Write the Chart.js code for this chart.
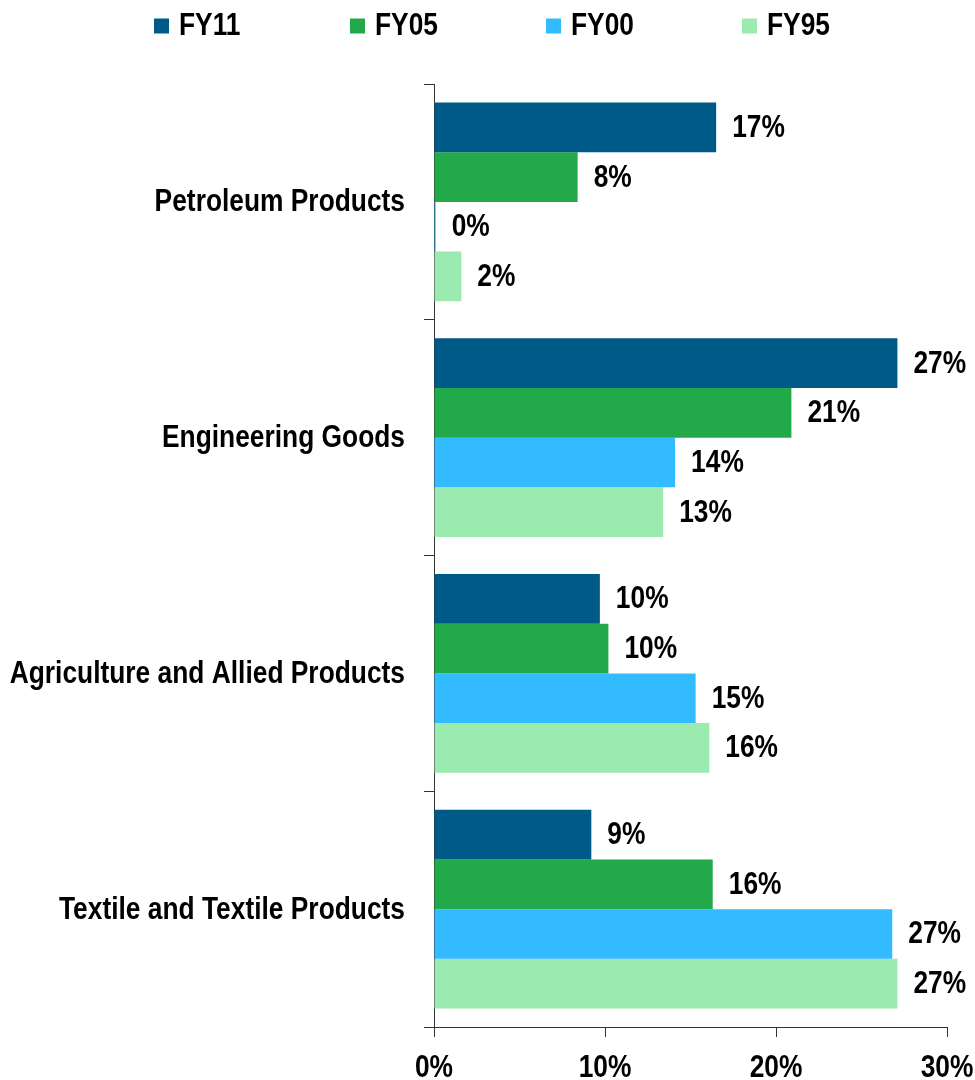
<!DOCTYPE html>
<html>
<head>
<meta charset="utf-8">
<title>Export share by product group</title>
<script src="https://cdn.jsdelivr.net/npm/chart.js@4/dist/chart.umd.min.js"></script>
<style>
  html, body { margin: 0; padding: 0; background: #ffffff; }
  #wrap { width: 975px; height: 1080px; position: relative; }
</style>
</head>
<body>
<div id="wrap"><canvas id="chart"></canvas></div>
<script>
// Product groups, top to bottom
const categories = [
  'Petroleum Products',
  'Engineering Goods',
  'Agriculture and Allied Products',
  'Textile and Textile Products'
];

// Share of exports (%) per fiscal year
const fy11 = [16.5, 27.1, 9.7, 9.2];
const fy05 = [8.4, 20.9, 10.2, 16.3];
const fy00 = [0.1, 14.1, 15.3, 26.8];
const fy95 = [1.6, 13.4, 16.1, 27.1];

const seriesNames = ['FY11', 'FY05', 'FY00', 'FY95'];
const seriesColors = ['#005A87', '#22AA4A', '#33BBFF', '#9BEAB0'];

const xTicks = [0, 10, 20, 30];

// Bold sans squeezed horizontally to get a narrow face
const FONT = "bold 31px 'Liberation Sans', Arial, sans-serif";
const NARROW = 0.85;

function drawNarrow(ctx, text, x, y, align, baseline) {
  ctx.save();
  ctx.translate(x, y);
  ctx.scale(NARROW, 1);
  ctx.font = FONT;
  ctx.fillStyle = '#000000';
  ctx.textAlign = align;
  ctx.textBaseline = baseline;
  ctx.fillText(text, 0, 0);
  ctx.restore();
}

const seriesValues = [fy11, fy05, fy00, fy95];
const datasets = seriesNames.map((name, i) => ({
  label: name,
  data: seriesValues[i],
  backgroundColor: seriesColors[i],
  borderWidth: 0,
  barPercentage: 1.0,
  categoryPercentage: 0.842
}));

// Percent labels just past the end of each bar
const valueLabels = {
  id: 'valueLabels',
  afterDatasetsDraw(chart) {
    const ctx = chart.ctx;
    chart.data.datasets.forEach((ds, di) => {
      const meta = chart.getDatasetMeta(di);
      meta.data.forEach((bar, j) => {
        drawNarrow(ctx, Math.round(ds.data[j]) + '%', bar.x + 16, bar.y + 1, 'left', 'middle');
      });
    });
  }
};

// Axis labels in the narrow face
const axisLabels = {
  id: 'axisLabels',
  afterDraw(chart) {
    const ctx = chart.ctx;
    const xs = chart.scales.x;
    const ys = chart.scales.y;
    xTicks.forEach(v => {
      drawNarrow(ctx, v + '%', xs.getPixelForValue(v), 1077, 'center', 'alphabetic');
    });
    categories.forEach((c, i) => {
      drawNarrow(ctx, c, ys.left + ys.width - 29, ys.getPixelForValue(i) + 1, 'right', 'middle');
    });
  }
};

// Legend row across the top
const topLegend = {
  id: 'topLegend',
  afterDraw(chart) {
    const ctx = chart.ctx;
    const slot = 196;
    const startX = 154;
    const cy = 26;
    const box = 15;
    chart.data.datasets.forEach((ds, i) => {
      const x = startX + i * slot;
      ctx.fillStyle = ds.backgroundColor;
      ctx.fillRect(x, cy - box / 2, box, box);
      drawNarrow(ctx, ds.label, x + box + 10, cy, 'left', 'middle');
    });
  }
};

new Chart(document.getElementById('chart'), {
  type: 'bar',
  data: { labels: categories, datasets },
  plugins: [valueLabels, axisLabels, topLegend],
  options: {
    indexAxis: 'y',
    responsive: true,
    maintainAspectRatio: false,
    animation: false,
    layout: { padding: { top: 84, right: 28, bottom: 0, left: 0 } },
    plugins: {
      legend: { display: false },
      tooltip: { enabled: false }
    },
    scales: {
      x: {
        min: 0,
        max: 30,
        afterBuildTicks(scale) {
          scale.ticks = xTicks.map(v => ({ value: v }));
        },
        afterFit(scale) { scale.height = 53; },
        border: { display: true, color: '#333333', width: 1 },
        grid: {
          drawOnChartArea: false,
          drawTicks: true,
          tickLength: 10,
          color: '#333333'
        },
        ticks: { display: false }
      },
      y: {
        afterFit(scale) { scale.width = 434; },
        border: { display: true, color: '#333333', width: 1 },
        grid: {
          drawOnChartArea: false,
          drawTicks: true,
          tickLength: 10,
          color: '#333333'
        },
        ticks: { display: false }
      }
    }
  }
});
</script>
</body>
</html>
